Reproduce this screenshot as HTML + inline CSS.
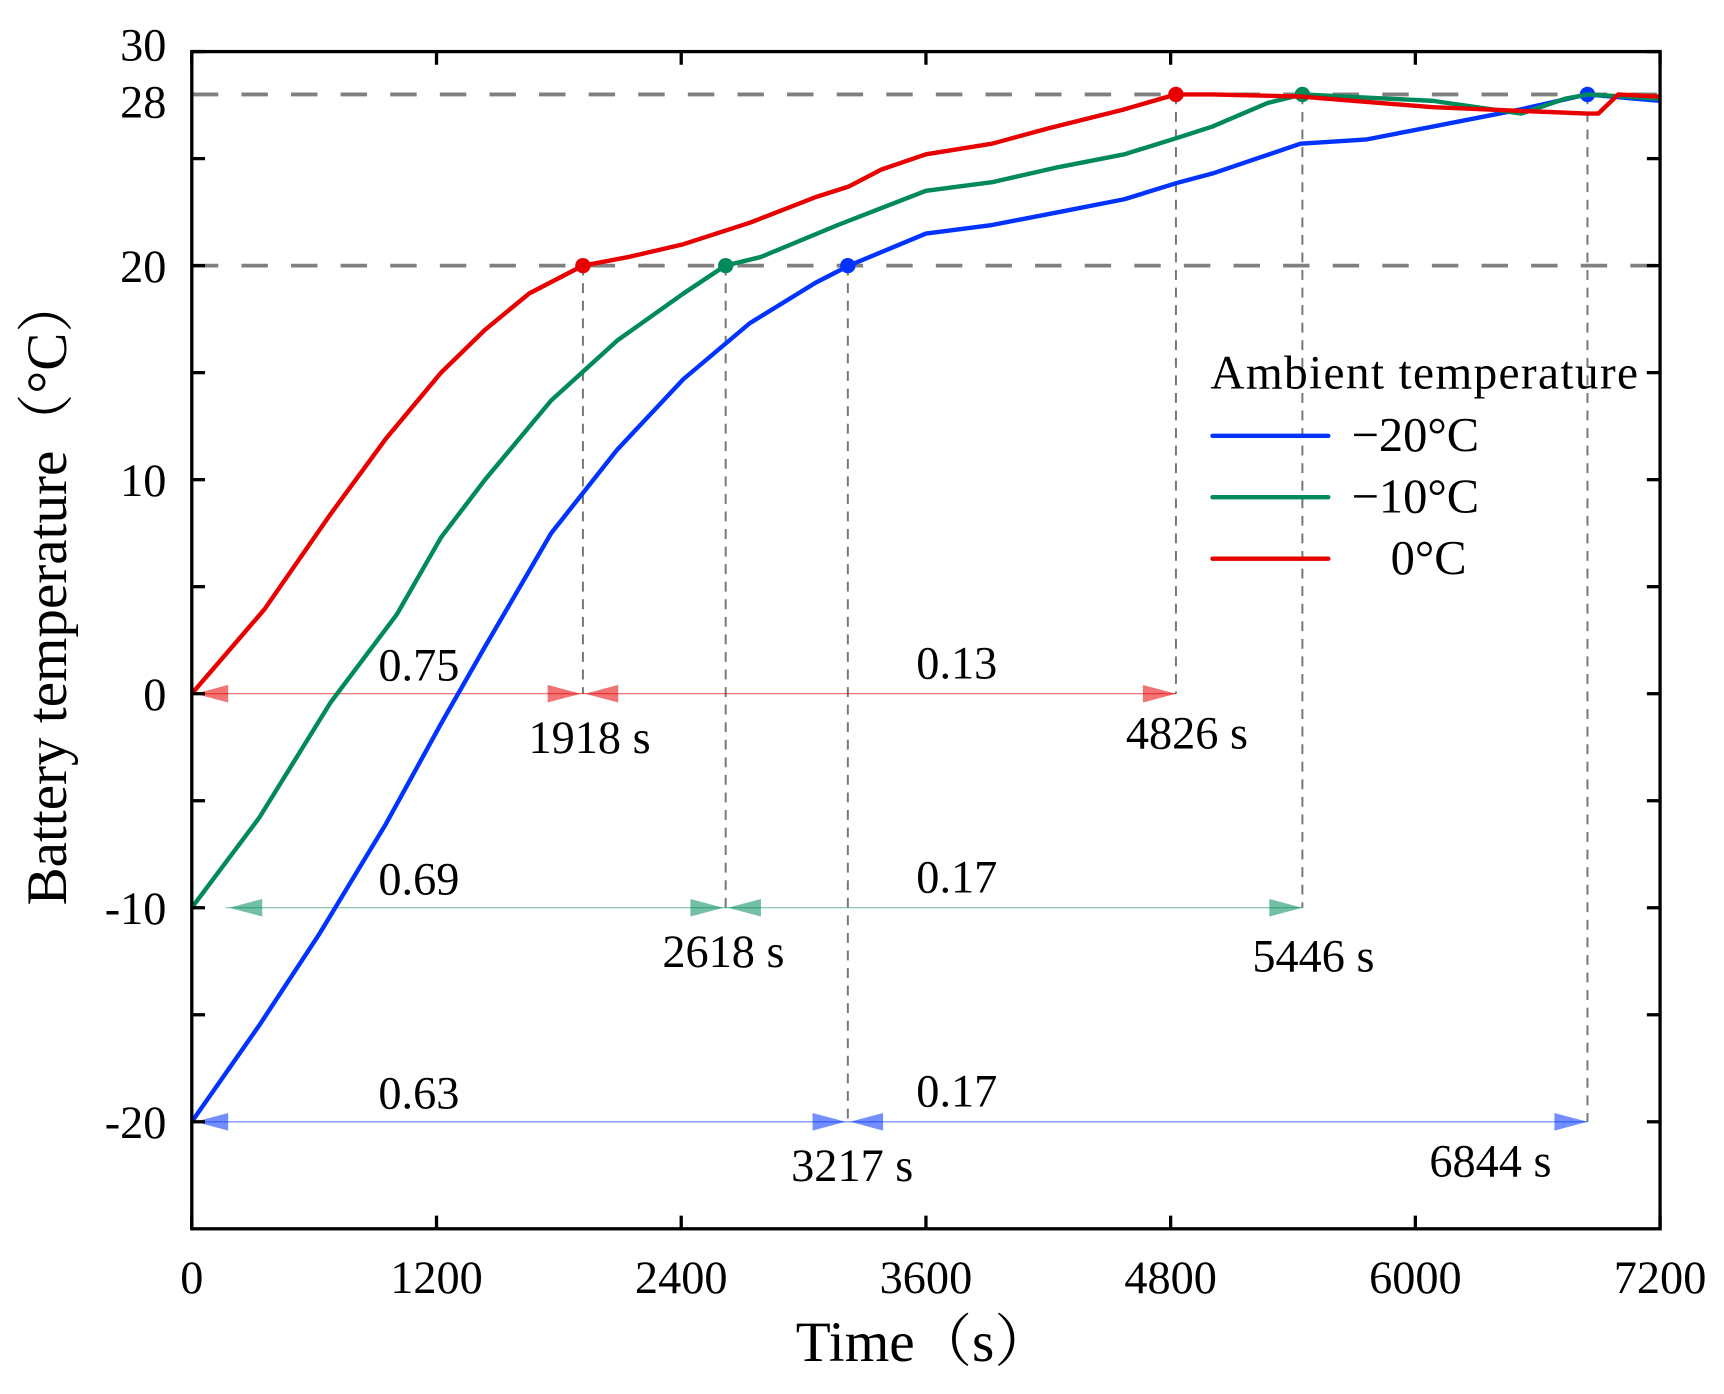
<!DOCTYPE html>
<html><head><meta charset="utf-8"><style>
html,body{margin:0;padding:0;background:#fff}
svg{display:block}
text{font-family:"Liberation Serif","Noto Serif CJK SC",serif;fill:#000}
</style></head><body>
<svg id="chart" width="1724" height="1394" viewBox="0 0 1564 1270" preserveAspectRatio="none" xmlns="http://www.w3.org/2000/svg">
<g id="grid"></g><g id="anno"></g><g id="series"></g><g id="axes"></g><g id="legend"></g>
</svg>
<script>
const timeBlue=[0,330,627,951,1222,1438,1762,2086,2411,2735,3059,3222,3600,3924,4249,4573,4843,5005,5437,5762,6086,6519,6843,7200];
const tempBlue=[-20,-15.5,-11.2,-6.1,-1.4,2.2,7.5,11.4,14.7,17.3,19.2,20,21.5,21.9,22.5,23.1,23.9,24.3,25.7,25.9,26.5,27.3,28,27.7];
const timeGreen=[0,330,681,1005,1222,1438,1762,2086,2411,2616,2789,3168,3600,3924,4249,4573,4843,5005,5275,5448,6086,6519,6735,6849,7200];
const tempGreen=[-10,-5.8,-0.4,3.7,7.3,10,13.7,16.5,18.7,20,20.4,21.9,23.5,23.9,24.6,25.2,26,26.5,27.6,28,27.7,27.1,27.8,28,27.8];
const timeRed=[0,357,681,951,1222,1438,1654,1918,2140,2411,2735,3059,3222,3384,3600,3924,4195,4573,4826,5005,5437,6086,6843,6897,6995,7200];
const tempRed=[0,3.95,8.4,11.9,15,17,18.7,20,20.4,21,22,23.2,23.7,24.5,25.2,25.7,26.4,27.3,28,28,27.9,27.4,27.1,27.1,28,27.9];
const xTicks=[0,1200,2400,3600,4800,6000,7200];
const yTickLabels=[30,28,20,10,0,-10,-20];
const yTicks=[30,25,20,15,10,5,0,-5,-10,-15,-20];
const markT20=[1918,2618,3217];
const markT28=[4826,5446,6844];
const baseTemps=[0,-10,-20];
const rate1=["0.75","0.69","0.63"];
const rate2=["0.13","0.17","0.17"];
const arrowStart=[0,167,0];

const L=174,R=1506,T=47,B=1119.5;
const X=t=>L+(t/7200)*(R-L);
const Y=v=>T+(30-v)*(B-T)/55;
const NS="http://www.w3.org/2000/svg";
function mk(tag,attrs,parent,txt){const e=document.createElementNS(NS,tag);for(const k in attrs)e.setAttribute(k,attrs[k]);if(txt!==undefined)e.textContent=txt;document.getElementById(parent).appendChild(e);return e;}
const colors=["#e80000","#008a5a","#0033ff"];
const names=["red","green","blue"];
const t28dx=[10,10,-88];
const t20dx=[6,-2,4];

[28,20].forEach(v=>{const e=mk('line',{x1:L,x2:R,y1:Y(v),y2:Y(v),stroke:'#808080','stroke-width':3.5,'stroke-dasharray':'24 21'},'grid');

});

for(let i=0;i<3;i++){
  const c=colors[i],yb=Y(baseTemps[i]);
  let e=mk('line',{x1:X(markT20[i]),x2:X(markT20[i]),y1:Y(20),y2:yb,stroke:'#777','stroke-width':1.8,'stroke-dasharray':'9 7'},'grid');
  
  
  e=mk('line',{x1:X(markT28[i]),x2:X(markT28[i]),y1:Y(28),y2:yb,stroke:'#777','stroke-width':1.8,'stroke-dasharray':'9 7'},'grid');
  
  
  e=mk('line',{x1:X(arrowStart[i]),x2:X(markT28[i]),y1:yb,y2:yb,stroke:c,'stroke-width':1,'opacity':0.6},'anno');
  
  
  const tri=(tip,dir)=>{const a=mk('polygon',{points:`${tip},${yb} ${tip-dir*30},${yb-8} ${tip-dir*30},${yb+8}`,fill:c,opacity:0.55},'anno');
    
    };
  const xs=X(arrowStart[i]),xm=X(markT20[i]),xe=X(markT28[i]);
  tri(xs+3,-1);tri(xm-2,1);tri(xm+2,-1);tri(xe,1);
  e=mk('text',{x:380,y:yb-12,'font-size':42,'text-anchor':'middle'},'anno',rate1[i]);
  
  
  e=mk('text',{x:868,y:yb-14,'font-size':42,'text-anchor':'middle'},'anno',rate2[i]);
  
  
  e=mk('text',{x:xm+t20dx[i],y:yb+54,'font-size':42,'text-anchor':'middle'},'anno',markT20[i]+' s');
  
  
  e=mk('text',{x:xe+t28dx[i],y:yb+(i===1?58:50),'font-size':42,'text-anchor':'middle'},'anno',markT28[i]+' s');
  
  
}

const sets=[[timeRed,tempRed],[timeGreen,tempGreen],[timeBlue,tempBlue]];
for(let i=2;i>=0;i--){
  const [ts,vs]=sets[i];
  const d=ts.map((t,j)=>(j?'L':'M')+X(t).toFixed(1)+','+Y(vs[j]).toFixed(1)).join(' ');
  const p=mk('path',{d:d,fill:'none',stroke:colors[i],'stroke-width':4,'stroke-linejoin':'round'},'series');
  
  
  let c=mk('circle',{cx:X(markT20[i]),cy:Y(20),r:7,fill:colors[i]},'series');
  
  
  c=mk('circle',{cx:X(markT28[i]),cy:Y(28),r:7,fill:colors[i]},'series');
  
  
}

let e=mk('rect',{x:L,y:T,width:R-L,height:B-T,fill:'none',stroke:'#000','stroke-width':3},'axes');


xTicks.forEach(t=>{
  mk('line',{x1:X(t),x2:X(t),y1:B,y2:B-12,stroke:'#000','stroke-width':3},'axes');
  mk('line',{x1:X(t),x2:X(t),y1:T,y2:T+12,stroke:'#000','stroke-width':3},'axes');
  const l=mk('text',{x:X(t),y:1178,'font-size':42,'text-anchor':'middle'},'axes',t);
  
  
});
yTicks.forEach(v=>{
  mk('line',{x1:L,x2:L+12,y1:Y(v),y2:Y(v),stroke:'#000','stroke-width':3},'axes');
  mk('line',{x1:R,x2:R-12,y1:Y(v),y2:Y(v),stroke:'#000','stroke-width':3},'axes');
});
yTickLabels.forEach(v=>{
  const l=mk('text',{x:151,y:Y(v)+(v===30?8:v===28?21:15),'font-size':42,'text-anchor':'end'},'axes',v);
  
  
});
e=mk('text',{x:838,y:1240,'font-size':52,'text-anchor':'middle'},'axes','Time（s）');


e=mk('text',{x:0,y:0,'font-size':52,'text-anchor':'middle',transform:'translate(60,538) rotate(-90)'},'axes','Battery temperature（°C）');



e=mk('text',{x:1098,y:354,'font-size':43,textLength:388},'legend','Ambient temperature');


const legLabels=['0°C','−10°C','−20°C'];
const legY=[509,453,397];
for(let i=0;i<3;i++){
  const g=mk('g',{},'legend');
  
  
  const ln=document.createElementNS(NS,'line');
  ln.setAttribute('x1',1100);ln.setAttribute('x2',1205);ln.setAttribute('y1',legY[i]);ln.setAttribute('y2',legY[i]);
  ln.setAttribute('stroke',colors[i]);ln.setAttribute('stroke-width',4);ln.setAttribute('stroke-linecap','round');
  g.appendChild(ln);
  const tx=document.createElementNS(NS,'text');
  tx.setAttribute('x',i===0?1296:1284);tx.setAttribute('y',legY[i]+14);tx.setAttribute('font-size',44);tx.setAttribute('text-anchor','middle');
  tx.textContent=legLabels[i];
  g.appendChild(tx);
}
</script>
</body></html>
